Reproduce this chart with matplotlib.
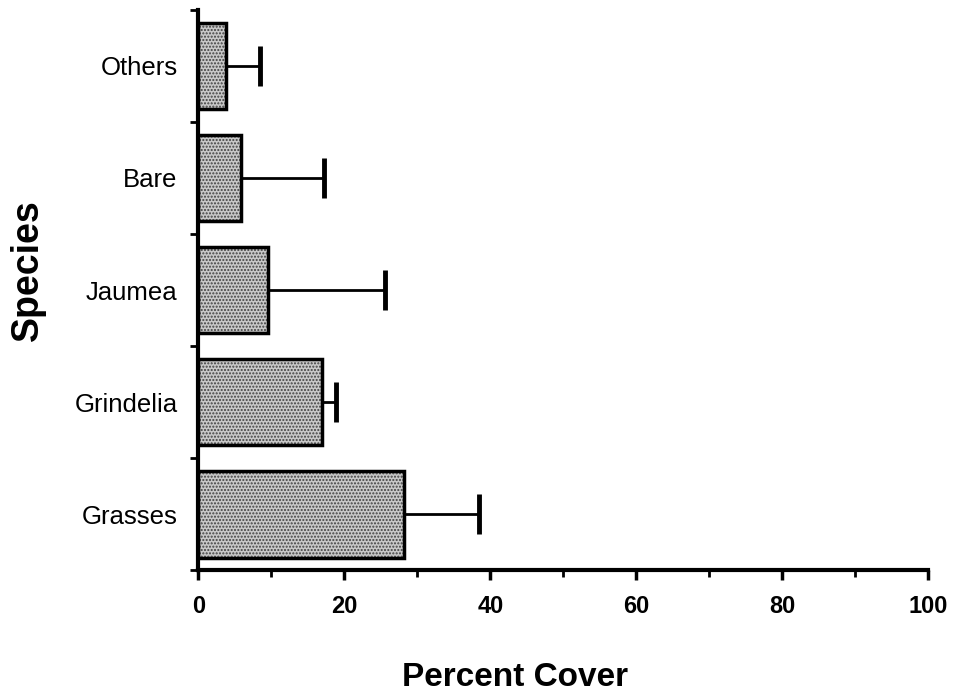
import matplotlib
matplotlib.use("Agg")
import matplotlib.pyplot as plt
import numpy as np

species = ["Grasses", "Grindelia", "Jaumea", "Bare", "Others"]
cover = [28.2, 17.0, 9.5, 5.9, 3.8]
err = [10.3, 1.8, 16.0, 11.3, 4.7]
xticks = [0, 20, 40, 60, 80, 100]

plt.rcParams['font.family'] = ['Liberation Sans', 'DejaVu Sans']

fig = plt.figure(figsize=(9.54, 6.94), dpi=100)
ax = fig.add_axes([0.208, 0.178, 0.765, 0.808])

y = np.arange(len(species))
cover_a = np.array(cover)
err_a = np.array(err)
h = 0.77
ax.barh(y, cover_a, height=h, color='#c8c8c8', hatch='.....', edgecolor='#404040', linewidth=0, zorder=2)
ax.barh(y, cover_a, height=h, color='none', edgecolor='black', linewidth=2.5, zorder=3)
ax.hlines(y, cover_a, cover_a + err_a, colors='black', linewidth=2, zorder=4)
ax.plot(cover_a + err_a, y, linestyle='none', marker='|', markersize=29,
        markeredgewidth=3.5, color='black', zorder=4)

ax.set_xlim(0, 100)
ax.set_ylim(-0.5, len(species) - 0.5)
ax.set_xticks(xticks)
ax.set_xticklabels([str(v) for v in xticks], fontsize=17, fontweight='bold')
ax.set_xticks(np.arange(10, 100, 20), minor=True)
ax.tick_params(axis='x', which='major', direction='out', length=7, width=2.5, pad=11)
ax.tick_params(axis='x', which='minor', direction='out', length=5, width=2)

ax.set_yticks(y)
ax.set_yticklabels(species, fontsize=18.5)
ax.tick_params(axis='y', which='major', length=0, pad=15)
ax.set_yticks(np.arange(-0.5, len(species), 1.0), minor=True)
ax.tick_params(axis='y', which='minor', direction='out', length=6, width=2)

for s in ['top', 'right']:
    ax.spines[s].set_visible(False)
for s in ['left', 'bottom']:
    ax.spines[s].set_linewidth(3)

fig.text(0.029, 0.611, "Species", rotation=90, fontsize=27, fontweight='bold',
         ha='center', va='center')
fig.text(0.540, 0.024, "Percent Cover", fontsize=24, fontweight='bold',
         ha='center', va='center')

fig.savefig("out.png", dpi=100)
